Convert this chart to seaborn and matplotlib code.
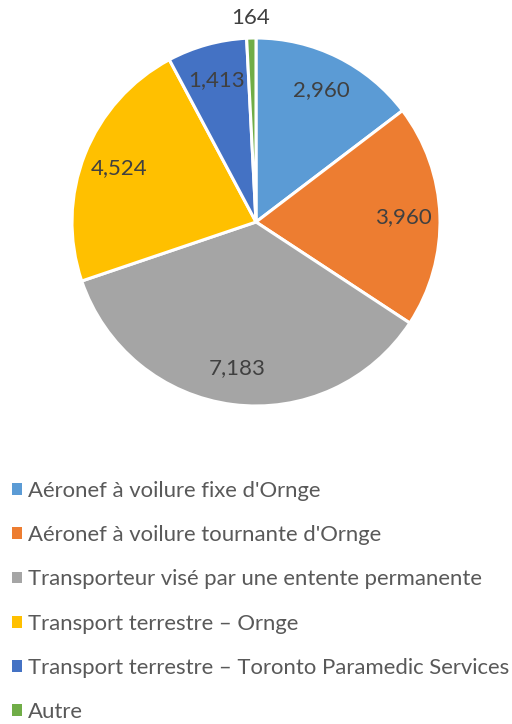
import numpy as np
import matplotlib
matplotlib.use("Agg")
import matplotlib.pyplot as plt
import seaborn as sns

sns.set_theme(style="white")
plt.rcParams['font.family'] = ['Lato', 'DejaVu Sans']

categories = [
    "Aéronef à voilure fixe d'Ornge",
    "Aéronef à voilure tournante d'Ornge",
    "Transporteur visé par une entente permanente",
    "Transport terrestre – Ornge",
    "Transport terrestre – Toronto Paramedic Services",
    "Autre",
]
values = [2960, 3960, 7183, 4524, 1413, 164]
value_labels = ["2,960", "3,960", "7,183", "4,524", "1,413", "164"]
colors = ["#5B9BD5", "#ED7D31", "#A5A5A5", "#FFC000", "#4472C4", "#70AD47"]

fig = plt.figure(figsize=(5.12, 7.24), dpi=100)
W, H = 512, 724
cx, cy, r = 256, 222, 184
ax = fig.add_axes([(cx - r) / W, 1 - (cy + r) / H, 2 * r / W, 2 * r / H])
wedges, _ = ax.pie(values, colors=colors, startangle=90, counterclock=False,
                   wedgeprops=dict(edgecolor="white", linewidth=2.2))
ax.set_xlim(-1, 1)
ax.set_ylim(-1, 1)
ax.set_aspect("equal")
ax.axis("off")

for w, lab, v in zip(wedges, value_labels, values):
    ang = np.deg2rad((w.theta1 + w.theta2) / 2)
    d = 1.11 if v < 500 else 0.8
    ax.text(d * np.cos(ang), d * np.sin(ang), lab, ha="center", va="center",
            fontsize=16, color="#404040", clip_on=False)

leg = fig.legend(wedges, categories, loc="upper left",
                 bbox_to_anchor=(3 / W, 1 - 472 / H), frameon=False,
                 fontsize=15.9, labelcolor="#595959", handlelength=0.45,
                 handleheight=0.45, handletextpad=0.3, labelspacing=1.1,
                 borderaxespad=0)
for h in leg.legend_handles:
    h.set_edgecolor("none")

fig.savefig("out.png", dpi=100)
